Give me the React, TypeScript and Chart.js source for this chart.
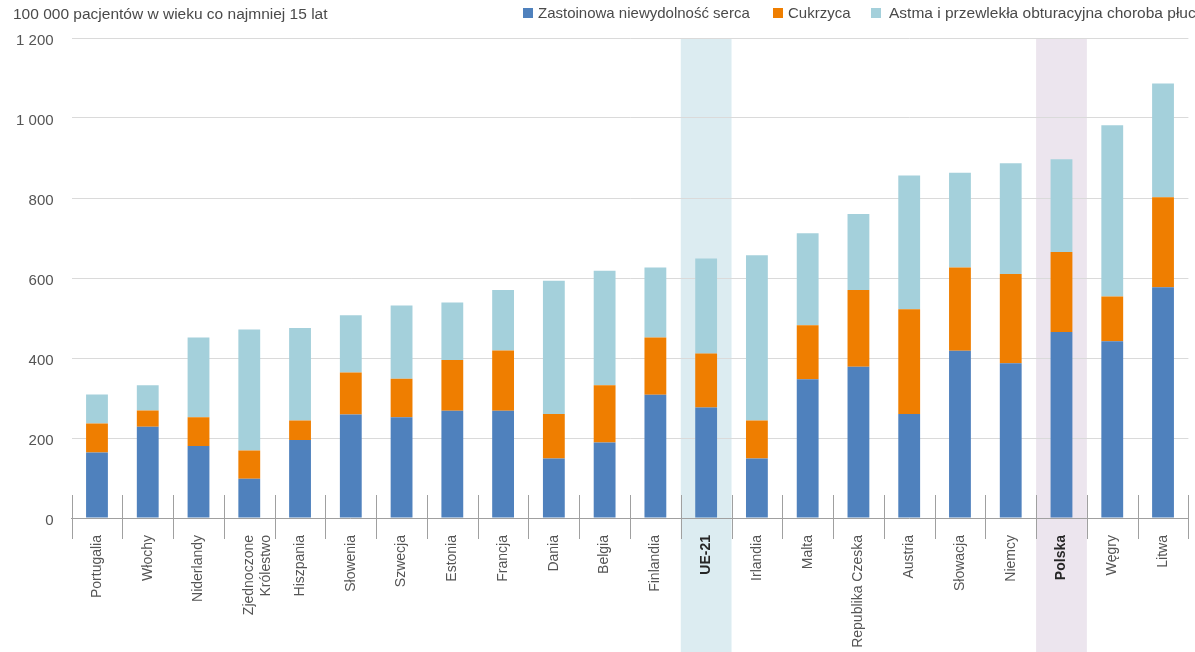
import { useEffect, useRef } from 'react';
import { Chart, registerables } from 'chart.js';

Chart.register(...registerables);

const FONT = "'Liberation Sans', Arial, sans-serif";

const titleText = '100 000 pacjentów w wieku co najmniej 15 lat';

const categories: (string | string[])[] = [
  'Portugalia', 'Włochy', 'Niderlandy', ['Zjednoczone', 'Królestwo'], 'Hiszpania',
  'Słowenia', 'Szwecja', 'Estonia', 'Francja', 'Dania', 'Belgia', 'Finlandia',
  'UE-21', 'Irlandia', 'Malta', 'Republika Czeska', 'Austria', 'Słowacja',
  'Niemcy', 'Polska', 'Węgry', 'Litwa',
];

const seriesNames = [
  'Zastoinowa niewydolność serca',
  'Cukrzyca',
  'Astma i przewlekła obturacyjna choroba płuc',
];
const seriesColors = ['#4F81BD', '#EF7E00', '#A4D0DB'];

const heartFailure = [164, 228, 180, 98, 195, 259, 252, 268, 268, 149, 189, 308, 276, 149, 347, 378, 260, 418, 387, 465, 442, 577];
const diabetes = [72, 41, 72, 71, 49, 105, 96, 127, 151, 111, 143, 143, 135, 95, 135, 192, 262, 208, 223, 200, 112, 225];
const asthmaCopd = [73, 63, 199, 302, 231, 143, 183, 144, 151, 333, 286, 175, 238, 413, 230, 190, 334, 237, 277, 232, 428, 284];

const highlighted = ['UE-21', 'Polska'];
const highlightColors = ['#DCECF1', '#ECE5EE'];

const yMax = 1200;
const yStep = 200;

const formatTick = (v: number) =>
  v >= 1000 ? `${Math.floor(v / 1000)} ${String(v % 1000).padStart(3, '0')}` : String(v);

const flatName = (c: string | string[]) => (Array.isArray(c) ? c.join(' ') : c);

export default function App() {
  const ref = useRef<HTMLCanvasElement>(null);

  useEffect(() => {
    if (!ref.current) return;
    const N = categories.length;
    const names = categories.map(flatName);

    const bands = {
      id: 'bands',
      beforeDraw(chart: any) {
        const x = chart.scales.x;
        const w = (x.right - x.left) / N;
        const ctx = chart.ctx;
        ctx.save();
        highlighted.forEach((name, k) => {
          const i = names.indexOf(name);
          if (i < 0) return;
          ctx.fillStyle = highlightColors[k];
          ctx.fillRect(x.left + i * w, chart.chartArea.top, w, chart.height - chart.chartArea.top);
        });
        ctx.restore();
      },
    };

    const separators = {
      id: 'separators',
      afterDatasetsDraw(chart: any) {
        const x = chart.scales.x;
        const w = (x.right - x.left) / N;
        const bottom = chart.chartArea.bottom;
        const ctx = chart.ctx;
        ctx.save();
        ctx.strokeStyle = '#a0a0a0';
        ctx.lineWidth = 1;
        ctx.beginPath();
        for (let k = 0; k <= N; k++) {
          const px = Math.round(x.left + k * w) + 0.5;
          ctx.moveTo(px, bottom - 23);
          ctx.lineTo(px, bottom + 21);
        }
        ctx.stroke();
        ctx.restore();
      },
    };

    const chart = new Chart(ref.current, {
      type: 'bar',
      data: {
        labels: categories as any,
        datasets: [heartFailure, diabetes, asthmaCopd].map((d, i) => ({
          label: seriesNames[i],
          data: d,
          backgroundColor: seriesColors[i],
          borderWidth: 0,
          barPercentage: 0.43,
          categoryPercentage: 1,
        })),
      },
      options: {
        responsive: false,
        animation: false,
        layout: { padding: { top: 38, right: 6.6, left: 0, bottom: 0 } },
        plugins: { legend: { display: false }, tooltip: { enabled: false } },
        scales: {
          x: {
            stacked: true,
            offset: true,
            grid: { display: false },
            border: { display: true, color: '#a0a0a0', width: 1 },
            afterFit: (s: any) => { s.height = 134; },
            ticks: {
              autoSkip: false,
              maxRotation: 90,
              minRotation: 90,
              padding: 9,
              color: (c: any) => (highlighted.includes(names[c.index]) ? '#262626' : '#555'),
              font: (c: any) => ({
                family: FONT,
                size: 14,
                weight: highlighted.includes(names[c.index]) ? 'bold' : 'normal',
              }),
            },
          },
          y: {
            stacked: true,
            min: 0,
            max: yMax,
            afterFit: (s: any) => { s.width = 71.6; },
            grid: { color: '#dadada', lineWidth: 1, drawTicks: false },
            border: { display: false },
            ticks: {
              stepSize: yStep,
              padding: 18,
              labelOffset: 3,
              color: '#555',
              font: { family: FONT, size: 15 },
              callback: (v: any) => formatTick(Number(v)),
            },
          },
        },
      },
      plugins: [bands, separators],
    });
    return () => chart.destroy();
  }, []);

  const legendPos = [523, 773, 871];

  return (
    <div style={{ position: 'fixed', left: 0, top: 0, width: 1195, height: 652, overflow: 'hidden', background: '#fff', fontFamily: FONT }}>
      <canvas ref={ref} width={1195} height={652} style={{ position: 'absolute', left: 0, top: 0 }} />
      <div style={{ position: 'absolute', left: 13, top: 6, fontSize: 15.5, lineHeight: '15px', color: '#4a4a4a', whiteSpace: 'nowrap' }}>
        {titleText}
      </div>
      {seriesNames.map((n, i) => (
        <div key={n} style={{ position: 'absolute', left: legendPos[i], top: 5, height: 15, whiteSpace: 'nowrap' }}>
          <span style={{ position: 'absolute', left: 0, top: 3, width: 10, height: 10, background: seriesColors[i] }} />
          <span style={{ position: 'absolute', left: i === 2 ? 18 : 15, top: 0, fontSize: i === 2 ? 15.5 : 15, lineHeight: '15px', color: '#4a4a4a' }}>{n}</span>
        </div>
      ))}
    </div>
  );
}
